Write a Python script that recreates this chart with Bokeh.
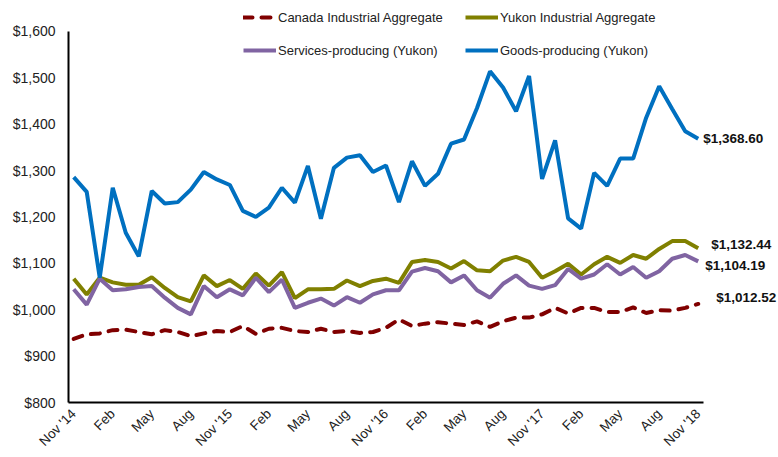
import math
from bokeh.plotting import figure
from bokeh.models import Range1d, FixedTicker, Legend, LegendItem, Label, NumeralTickFormatter
from bokeh.embed import file_html
from bokeh.resources import INLINE

months = list(range(49))
tick_positions = list(range(0, 49, 3))
tick_labels = ["Nov '14", "Feb", "May", "Aug", "Nov '15", "Feb", "May", "Aug", "Nov '16",
               "Feb", "May", "Aug", "Nov '17", "Feb", "May", "Aug", "Nov '18"]
y_ticks = list(range(800, 1601, 100))

canada = [937, 947, 949, 956, 957, 952, 947, 956, 952, 943, 949, 954, 952, 965, 948, 959, 961,
          954, 952, 959, 952, 954, 950, 952, 961, 979, 965, 970, 973, 970, 967, 975, 963, 975,
          983, 983, 990, 1004, 992, 1004, 1004, 995, 995, 1005, 993, 999, 998, 1004, 1012.52]
yukon = [1067, 1033, 1069, 1059, 1054, 1054, 1070, 1047, 1027, 1018, 1074, 1051, 1064, 1045,
         1078, 1052, 1081, 1025, 1044, 1044, 1045, 1063, 1051, 1062, 1067, 1058, 1103, 1107,
         1103, 1089, 1105, 1085, 1083, 1106, 1114, 1103, 1069, 1083, 1099, 1076, 1098, 1114,
         1101, 1118, 1110, 1131, 1148, 1148, 1132.44]
services = [1044, 1011, 1067, 1042, 1044, 1049, 1051, 1026, 1004, 990, 1051, 1027, 1044, 1031,
            1069, 1038, 1065, 1004, 1015, 1024, 1009, 1027, 1015, 1033, 1042, 1042, 1082, 1090,
            1083, 1059, 1074, 1042, 1026, 1056, 1074, 1052, 1045, 1053, 1088, 1067, 1076, 1098,
            1076, 1092, 1069, 1083, 1110, 1118, 1104.19]
goods = [1286, 1254, 1069, 1263, 1166, 1115, 1256, 1229, 1232, 1259, 1297, 1281, 1269, 1213,
         1200, 1220, 1263, 1231, 1310, 1196, 1306, 1328, 1333, 1297, 1311, 1232, 1320, 1267,
         1293, 1358, 1367, 1435, 1514, 1479, 1428, 1504, 1282, 1365, 1197, 1175, 1295, 1267,
         1326, 1326, 1414, 1482, 1433, 1385, 1368.60]

FONT = "Liberation Sans"
C_CAN = "#800000"
C_YUK = "#808000"
C_SER = "#8064A2"
C_GOO = "#0070C0"

p = figure(width=778, height=457, output_backend="svg", toolbar_location=None,
           x_range=Range1d(-0.4, 54.17), y_range=Range1d(800, 1666.7),
           min_border_left=68, min_border_right=0, min_border_top=0, min_border_bottom=54)
p.outline_line_color = None
p.xgrid.visible = False
p.ygrid.visible = False

r_can = p.line(months, canada, line_color=C_CAN, line_width=4, line_dash="9 9", line_cap="round")
r_yuk = p.line(months, yukon, line_color=C_YUK, line_width=4)
r_ser = p.line(months, services, line_color=C_SER, line_width=4)
r_goo = p.line(months, goods, line_color=C_GOO, line_width=4)

p.xaxis.ticker = FixedTicker(ticks=tick_positions)
p.xaxis.major_label_overrides = {t: l for t, l in zip(tick_positions, tick_labels)}
p.xaxis.major_label_orientation = math.pi / 4
p.xaxis.bounds = (-0.4, 48.4)
p.yaxis.ticker = FixedTicker(ticks=y_ticks)
p.yaxis.bounds = (y_ticks[0], y_ticks[-1])
p.yaxis.formatter = NumeralTickFormatter(format="$0,0")
for ax in (p.xaxis[0], p.yaxis[0]):
    ax.axis_line_color = "black"
    ax.axis_line_width = 2
    ax.major_tick_line_color = None
    ax.minor_tick_line_color = None
    ax.major_tick_out = 0
    ax.major_tick_in = 0
    ax.minor_tick_out = 0
    ax.major_label_text_font = FONT
    ax.major_label_text_color = "#222222"
p.yaxis.major_label_text_font_size = "14px"
p.yaxis.major_label_standoff = 13
p.xaxis.major_label_text_font_size = "13.5px"
p.xaxis.major_label_standoff = 9

legend = Legend(items=[LegendItem(label="Canada Industrial Aggregate", renderers=[r_can]),
                       LegendItem(label="Services-producing (Yukon)", renderers=[r_ser]),
                       LegendItem(label="Yukon Industrial Aggregate", renderers=[r_yuk]),
                       LegendItem(label="Goods-producing (Yukon)", renderers=[r_goo])],
                ncols=2, location=(175, 342),
                label_text_font=FONT, label_text_font_size="13px", label_text_color="#222222",
                glyph_width=33, glyph_height=20, label_height=20, label_width=174,
                label_standoff=2, spacing=13, padding=4, margin=0,
                background_fill_alpha=0, border_line_color=None)
p.add_layout(legend, "center")

finals = [(goods[-1], 5, 0), (yukon[-1], 13, 4), (services[-1], 7, -4), (canada[-1], 18, 6)]
for val, dx, dy in finals:
    p.add_layout(Label(x=months[-1], y=val, text=f"${val:,.2f}", x_offset=dx, y_offset=dy,
                       text_font=FONT, text_font_size="13.5px", text_font_style="bold",
                       text_baseline="middle", text_color="#111111"))

open("out.html", "w").write(file_html(p, INLINE))
